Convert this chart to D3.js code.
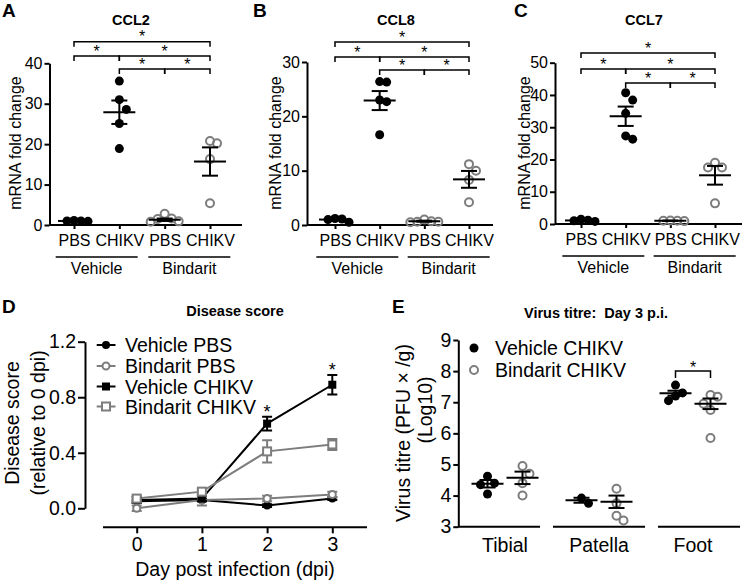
<!DOCTYPE html>
<html><head><meta charset="utf-8">
<script src="https://cdn.jsdelivr.net/npm/d3@7"></script>
<style>
body{margin:0;background:#fff}
svg{display:block;font-family:"Liberation Sans",Arial,Helvetica,sans-serif}
</style>
</head><body>
<svg id="c" width="742" height="582"></svg>
<script>
// ---------- DATA ----------
const groupLabels = ["PBS", "CHIKV", "PBS", "CHIKV"];
const treatmentLabels = ["Vehicle", "Bindarit"];

// A: CCL2
const ccl2VehPBS = [1.0, 1.1, 0.9, 1.0];
const ccl2VehCHIKV = [35.6, 31.0, 28.6, 25.1, 18.9];
const ccl2BinPBS = [2.8, 1.6, 1.5, 0.9, 0.8];
const ccl2BinCHIKV = [20.8, 20.2, 16.3, 5.4];
const ccl2Mean = [1.0, 27.9, 1.3, 15.7];
const ccl2Sem = [0.1, 2.9, 0.3, 3.5];

// B: CCL8
const ccl8VehPBS = [1.2, 1.1, 1.0, 0.5];
const ccl8VehCHIKV = [26.4, 26.3, 23.0, 22.7, 16.6];
const ccl8BinPBS = [1.0, 0.7, 0.6, 0.6, 0.5];
const ccl8BinCHIKV = [11.2, 10.0, 8.3, 4.2];
const ccl8Mean = [1.0, 22.9, 0.7, 8.4];
const ccl8Sem = [0.15, 1.75, 0.1, 1.55];

// C: CCL7
const ccl7VehPBS = [1.5, 1.2, 1.0, 0.8];
const ccl7VehCHIKV = [40.7, 38.4, 34.3, 27.3, 26.3];
const ccl7BinPBS = [1.1, 1.0, 1.0, 0.9];
const ccl7BinCHIKV = [19.0, 17.5, 17.5, 6.4];
const ccl7Mean = [1.1, 33.4, 1.0, 15.1];
const ccl7Sem = [0.15, 3.0, 0.05, 2.9];

// D: Disease score
const days = [0, 1, 2, 3];
const dVehPBS = [0.05, 0.06, 0.02, 0.07];
const dBinPBS = [0.00, 0.06, 0.07, 0.10];
const dVehCHIKV = [0.06, 0.07, 0.61, 0.89];
const dBinCHIKV = [0.07, 0.12, 0.41, 0.46];
const dVehPBSErr = [0.01, 0.01, 0.01, 0.01];
const dBinPBSErr = [0.02, 0.04, 0.02, 0.02];
const dVehCHIKVErr = [0.02, 0.02, 0.05, 0.07];
const dBinCHIKVErr = [0.02, 0.02, 0.08, 0.04];
const dSeriesNames = ["Vehicle PBS", "Bindarit PBS", "Vehicle CHIKV", "Bindarit CHIKV"];
const dStarDays = [2, 3];

// E: Virus titre
const tissues = ["Tibial", "Patella", "Foot"];
const eSeriesNames = ["Vehicle CHIKV", "Bindarit CHIKV"];
const eVehTibial = [4.62, 4.40, 4.35, 4.05];
const eBinTibial = [4.95, 4.70, 4.40, 4.00];
const eVehPatella = [3.92, 3.75];
const eBinPatella = [4.22, 3.75, 3.35, 3.20];
const eVehFoot = [7.55, 7.30, 7.20, 7.05];
const eBinFoot = [7.23, 7.18, 6.95, 6.75, 5.85];
const eVehMean = [4.38, 3.85, 7.29];
const eVehSem = [0.12, 0.08, 0.08];
const eBinMean = [4.57, 3.80, 6.95];
const eBinSem = [0.20, 0.20, 0.17];

// ---------- DRAWING ----------
const svg = d3.select("#c");
const GREY = "#7d7d7d";
const FS_ABC = 16;
const FS_DE = 19.5;

// simple beeswarm: points collide if within 7px horizontally and 10px vertically
function dodge(vals, y, cx) {
  const step = 7, tx = 7, ty = 10;
  const placed = [];
  vals.slice().sort((a, b) => b - a).forEach(v => {
    const py = y(v);
    for (let k = 0; k < 30; k++) {
      const off = k === 0 ? 0 : (k % 2 === 1 ? Math.ceil(k / 2) * step : -Math.ceil(k / 2) * step);
      const px = cx + off;
      if (placed.every(q => Math.abs(q.x - px) >= tx || Math.abs(q.y - py) >= ty)) { placed.push({x: px, y: py}); break; }
    }
  });
  return placed;
}

function styleAxis(sel, fs) {
  sel.attr("font-size", fs).attr("font-family", "Liberation Sans, Arial, sans-serif");
  sel.selectAll("path,line").attr("stroke", "#000").attr("stroke-width", 2);
  sel.selectAll("text").attr("fill", "#000").attr("font-size", fs);
}

function meanSem(g, cx, y, m, s) {
  g.append("line").attr("x1", cx - 16).attr("x2", cx + 16).attr("y1", y(m)).attr("y2", y(m))
    .attr("stroke", "#000").attr("stroke-width", 2);
  g.append("line").attr("x1", cx).attr("x2", cx).attr("y1", y(m - s)).attr("y2", y(m + s))
    .attr("stroke", "#000").attr("stroke-width", 2);
  [m - s, m + s].forEach(v => g.append("line").attr("x1", cx - 8).attr("x2", cx + 8).attr("y1", y(v)).attr("y2", y(v))
    .attr("stroke", "#000").attr("stroke-width", 2));
}

function bracket(g, x1, x2, yb, drop, star) {
  g.append("path").attr("d", `M${x1},${yb + drop}V${yb}H${x2}V${yb + drop}`)
    .attr("fill", "none").attr("stroke", "#000").attr("stroke-width", 1.5);
  if (star) g.append("text").attr("x", (x1 + x2) / 2).attr("y", yb + 0.5).attr("text-anchor", "middle")
    .attr("font-size", 16).text("*");
}

function dotPanel(c) {
  const g = svg.append("g");
  const y = d3.scaleLinear().domain([0, c.max]).range([c.yBot, c.yTop]);
  const x = d3.scalePoint().domain(d3.range(4)).range([c.cat0, c.cat3]);
  const ya = g.append("g").attr("transform", `translate(${c.xL},0)`)
    .call(d3.axisLeft(y).tickValues(c.ticks).tickSize(5).tickSizeOuter(0).tickPadding(2));
  styleAxis(ya, FS_ABC);
  const xa = g.append("g").attr("transform", `translate(0,${c.yBot})`)
    .call(d3.axisBottom(x).tickSize(4).tickSizeOuter(0).tickPadding(6).tickFormat(i => groupLabels[i]));
  xa.select(".domain").remove();
  styleAxis(xa, FS_ABC);
  g.append("line").attr("x1", c.xL).attr("x2", c.xR).attr("y1", c.yBot).attr("y2", c.yBot)
    .attr("stroke", "#000").attr("stroke-width", 2);
  [0, 1].forEach(t => {
    const cx = (x(2 * t) + x(2 * t + 1)) / 2 + t * 2;
    g.append("line").attr("x1", cx - 41).attr("x2", cx + 41).attr("y1", c.yBot + 32).attr("y2", c.yBot + 32)
      .attr("stroke", "#000").attr("stroke-width", 1.5);
    g.append("text").attr("x", cx).attr("y", c.yBot + 49).attr("text-anchor", "middle")
      .attr("font-size", FS_ABC).text(treatmentLabels[t]);
  });
  c.data.forEach((vals, i) => {
    const pts = dodge(vals, y, x(i));
    const filled = i < 2;
    g.selectAll(null).data(pts).enter().append("circle")
      .attr("cx", d => d.x).attr("cy", d => d.y).attr("r", filled ? 4.5 : 4)
      .attr("fill", filled ? "#000" : "none").attr("stroke", filled ? "none" : GREY).attr("stroke-width", 2);
  });
  c.means.forEach((m, i) => meanSem(g, x(i), y, m, c.sems[i]));
  const rows = c.rows;
  bracket(g, x(0), x(3), rows[0], 5, true);
  bracket(g, x(0), x(1), rows[1], 5, true);
  bracket(g, x(1), x(3), rows[1], 5, true);
  bracket(g, x(1), x(2), rows[2], 5, true);
  bracket(g, x(2), x(3), rows[2], 5, true);
  g.append("text").attr("x", c.titleX).attr("y", 25).attr("text-anchor", "middle")
    .attr("font-size", 14.5).attr("font-weight", "bold").text(c.title);
  g.append("text").attr("x", c.letterX).attr("y", 17).attr("font-size", 19).attr("font-weight", "bold").text(c.letter);
  g.append("text").attr("transform", `translate(${c.ylabX},143) rotate(-90)`).attr("text-anchor", "middle")
    .attr("dominant-baseline", "central").attr("font-size", FS_ABC).text("mRNA fold change");
}

dotPanel({max: 40, ticks: [0, 10, 20, 30, 40], yTop: 63.3, yBot: 225, xL: 49.5, xR: 242, cat0: 74, cat3: 210,
  data: [ccl2VehPBS, ccl2VehCHIKV, ccl2BinPBS, ccl2BinCHIKV], means: ccl2Mean, sems: ccl2Sem,
  rows: [41.7, 56, 69], title: "CCL2", titleX: 131, letter: "A", letterX: 2, ylabX: 15});
dotPanel({max: 30, ticks: [0, 10, 20, 30], yTop: 62, yBot: 225, xL: 307, xR: 493, cat0: 335, cat3: 469,
  data: [ccl8VehPBS, ccl8VehCHIKV, ccl8BinPBS, ccl8BinCHIKV], means: ccl8Mean, sems: ccl8Sem,
  rows: [42, 57, 70], title: "CCL8", titleX: 396, letter: "B", letterX: 253, ylabX: 275});
dotPanel({max: 50, ticks: [0, 10, 20, 30, 40, 50], yTop: 62.7, yBot: 224, xL: 555, xR: 742, cat0: 581, cat3: 715,
  data: [ccl7VehPBS, ccl7VehCHIKV, ccl7BinPBS, ccl7BinCHIKV], means: ccl7Mean, sems: ccl7Sem,
  rows: [53, 69, 83], title: "CCL7", titleX: 644, letter: "C", letterX: 514, ylabX: 524});

// ---------- Panel D ----------
(function () {
  const g = svg.append("g");
  const y = d3.scaleLinear().domain([0, 1.2]).range([508.3, 341.7]);
  const x = d3.scaleLinear().domain([0, 3]).range([136.7, 332.3]);
  const ya = g.append("g").attr("transform", "translate(85,0)")
    .call(d3.axisLeft(y).tickValues([0, 0.4, 0.8, 1.2]).tickFormat(d3.format(".1f")).tickSize(7).tickSizeOuter(0).tickPadding(2));
  styleAxis(ya, FS_DE);
  const xa = g.append("g").attr("transform", "translate(0,527.3)")
    .call(d3.axisBottom(x).tickValues(days).tickFormat(d3.format("d")).tickSize(6).tickSizeOuter(0).tickPadding(4));
  xa.select(".domain").remove();
  styleAxis(xa, FS_DE);
  g.append("line").attr("x1", 103).attr("x2", 367).attr("y1", 527.3).attr("y2", 527.3).attr("stroke", "#000").attr("stroke-width", 2);
  g.append("text").attr("x", 235).attr("y", 576).attr("text-anchor", "middle").attr("font-size", FS_DE).text("Day post infection (dpi)");
  g.append("text").attr("transform", "translate(12,423) rotate(-90)").attr("text-anchor", "middle")
    .attr("dominant-baseline", "central").attr("font-size", FS_DE).text("Disease score");
  g.append("text").attr("transform", "translate(38,423) rotate(-90)").attr("text-anchor", "middle")
    .attr("dominant-baseline", "central").attr("font-size", FS_DE).text("(relative to 0 dpi)");
  g.append("text").attr("x", 235).attr("y", 316).attr("text-anchor", "middle").attr("font-size", 14.5).attr("font-weight", "bold").text("Disease score");
  g.append("text").attr("x", 2).attr("y", 313).attr("font-size", 19).attr("font-weight", "bold").text("D");

  const series = [
    {vals: dVehPBS, err: dVehPBSErr, color: "#000", shape: "circle", open: false},
    {vals: dBinPBS, err: dBinPBSErr, color: GREY, shape: "circle", open: true},
    {vals: dVehCHIKV, err: dVehCHIKVErr, color: "#000", shape: "square", open: false},
    {vals: dBinCHIKV, err: dBinCHIKVErr, color: GREY, shape: "square", open: true}
  ];
  const line = d3.line().x((d, i) => x(days[i])).y(d => y(d));
  function marker(sel, s, cx, cy) {
    if (s.shape === "circle") sel.append("circle").attr("cx", cx).attr("cy", cy).attr("r", s.open ? 3.5 : 4)
      .attr("fill", s.open ? "#fff" : s.color).attr("stroke", s.color).attr("stroke-width", s.open ? 2 : 0);
    else sel.append("rect").attr("x", cx - 4).attr("y", cy - 4).attr("width", 8).attr("height", 8)
      .attr("fill", s.open ? "#fff" : s.color).attr("stroke", s.color).attr("stroke-width", s.open ? 2 : 0);
  }
  series.forEach(s => {
    g.append("path").attr("d", line(s.vals)).attr("fill", "none").attr("stroke", s.color).attr("stroke-width", 2);
  });
  series.forEach(s => {
    s.vals.forEach((v, i) => {
      const cx = x(days[i]);
      const e = s.err[i];
      g.append("path").attr("d", `M${cx - 5},${y(v - e)}H${cx + 5}M${cx},${y(v - e)}V${y(v + e)}M${cx - 5},${y(v + e)}H${cx + 5}`)
        .attr("stroke", s.color).attr("stroke-width", 2).attr("fill", "none");
      marker(g, s, cx, y(v));
    });
  });
  dStarDays.forEach(d => {
    const top = y(dVehCHIKV[d] + dVehCHIKVErr[d]);
    g.append("text").attr("x", x(d)).attr("y", top + 1).attr("text-anchor", "middle").attr("font-size", 18).text("*");
  });
  const ly = [345, 366, 386.5, 406.5];
  series.forEach((s, i) => {
    g.append("line").attr("x1", 96.7).attr("x2", 115.5).attr("y1", ly[i]).attr("y2", ly[i]).attr("stroke", s.color).attr("stroke-width", 2);
    marker(g, s, 106, ly[i]);
    g.append("text").attr("x", 125).attr("y", ly[i]).attr("dominant-baseline", "central").attr("font-size", FS_DE).text(dSeriesNames[i]);
  });
})();

// ---------- Panel E ----------
(function () {
  const g = svg.append("g");
  const y = d3.scaleLinear().domain([3, 9]).range([526.7, 340]);
  const xb = d3.scaleBand().domain(tissues).range([458, 740]);
  const ya = g.append("g").attr("transform", "translate(458.3,0)")
    .call(d3.axisLeft(y).tickValues(d3.range(3, 10)).tickFormat(d3.format("d")).tickSize(5).tickSizeOuter(0).tickPadding(2));
  styleAxis(ya, FS_DE);
  const segs = [[458, 540], [553, 645], [658, 740]];
  segs.forEach(s => g.append("line").attr("x1", s[0]).attr("x2", s[1]).attr("y1", 526.7).attr("y2", 526.7)
    .attr("stroke", "#000").attr("stroke-width", 2));
  tissues.forEach(t => g.append("text").attr("x", xb(t) + xb.bandwidth() / 2).attr("y", 551.7)
    .attr("text-anchor", "middle").attr("font-size", FS_DE).text(t));
  g.append("text").attr("transform", "translate(402.5,433) rotate(-90)").attr("text-anchor", "middle")
    .attr("dominant-baseline", "central").attr("font-size", FS_DE).text("Virus titre (PFU \u00d7 /g)");
  g.append("text").attr("transform", "translate(425,410) rotate(-90)").attr("text-anchor", "middle")
    .attr("dominant-baseline", "central").attr("font-size", FS_DE).text("(Log10)");
  g.append("text").attr("x", 596).attr("y", 318).attr("text-anchor", "middle").attr("font-size", 14.5).attr("font-weight", "bold").text("Virus titre:\u00a0 Day 3 p.i.");
  g.append("text").attr("x", 392).attr("y", 313).attr("font-size", 19).attr("font-weight", "bold").text("E");

  const veh = [eVehTibial, eVehPatella, eVehFoot];
  const bin = [eBinTibial, eBinPatella, eBinFoot];
  tissues.forEach((t, i) => {
    const c = xb(t) + xb.bandwidth() / 2;
    const cv = c - 17.5, cb = c + 17.5;
    dodge(veh[i], y, cv).forEach(p => g.append("circle").attr("cx", p.x).attr("cy", p.y).attr("r", 4.5).attr("fill", "#000"));
    dodge(bin[i], y, cb).forEach(p => g.append("circle").attr("cx", p.x).attr("cy", p.y).attr("r", 4)
      .attr("fill", "none").attr("stroke", GREY).attr("stroke-width", 2));
    meanSem(g, cv, y, eVehMean[i], eVehSem[i]);
    meanSem(g, cb, y, eBinMean[i], eBinSem[i]);
    if (t === "Foot") {
      g.append("path").attr("d", `M${cv},378V371H${cb}V378`).attr("fill", "none").attr("stroke", "#000").attr("stroke-width", 1.5);
      g.append("text").attr("x", c).attr("y", 373).attr("text-anchor", "middle").attr("font-size", 16).text("*");
    }
  });
  g.append("circle").attr("cx", 474).attr("cy", 348).attr("r", 4.5).attr("fill", "#000");
  g.append("circle").attr("cx", 474).attr("cy", 370).attr("r", 4).attr("fill", "none").attr("stroke", GREY).attr("stroke-width", 2);
  [348, 370].forEach((yy, i) => g.append("text").attr("x", 495).attr("y", yy).attr("dominant-baseline", "central")
    .attr("font-size", FS_DE).text(eSeriesNames[i]));
})();
</script>
</body></html>
